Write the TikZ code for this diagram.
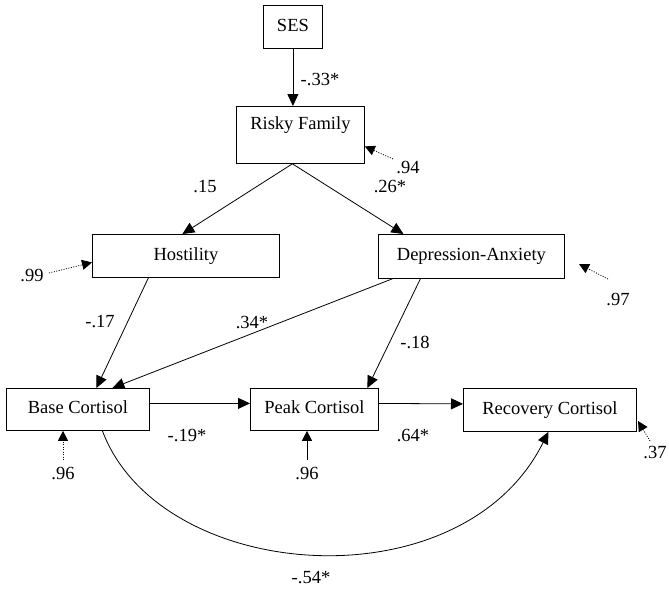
\documentclass[tikz,border=0pt]{standalone}
\usepackage{fontspec}
\setmainfont{Liberation Serif}
\usetikzlibrary{arrows.meta,calc}
\begin{document}
\begin{tikzpicture}[x=1pt,y=-1pt,
  every node/.style={font=\fontsize{18.5}{20}\selectfont},
  box/.style={draw,line width=0.8pt,anchor=north west,inner sep=0pt,text height=13pt,text depth=4pt},
  lbl/.style={inner sep=0pt},
  path/.style={line width=0.8pt,-{Triangle[length=12pt,width=11pt]}},
  err/.style={line width=0.8pt,dash pattern=on 1pt off 1.5pt,-{Triangle[length=10pt,width=10pt]}},
  errsolid/.style={line width=0.8pt,-{Triangle[length=10pt,width=10pt]}}]
\useasboundingbox (0,0) rectangle (669,595);
\clip (0,0) rectangle (669,595);
% boxes
\node[box,minimum width=59pt,minimum height=43pt] (ses) at (263,5) {SES};
\node[box,minimum width=128pt,minimum height=57pt,text depth=23pt] (risky) at (236,106) {Risky Family};
\node[box,minimum width=187pt,minimum height=43pt] (host) at (92,234) {Hostility};
\node[box,minimum width=186pt,minimum height=44pt] (da) at (378,234) {Depression-Anxiety};
\node[box,minimum width=143pt,minimum height=42pt] (base) at (6,388) {Base Cortisol};
\node[box,minimum width=128pt,minimum height=42pt] (peak) at (250,388) {Peak Cortisol};
\node[box,minimum width=173pt,minimum height=43pt] (rec) at (463,388) {Recovery Cortisol};
% structural paths
\draw[path] (ses.south) -- (ses.south |- risky.north);
\draw[path] ([xshift=-8pt]risky.south) -- ([xshift=-3.5pt]host.north);
\draw[path] ([xshift=-8pt]risky.south) -- ([xshift=-68pt]da.north);
\draw[path] ([xshift=-37.5pt]host.south) -- ([xshift=18.5pt]base.north);
\draw[path] ([xshift=-79pt]da.south) -- ([xshift=34.5pt]base.north);
\draw[path] ([xshift=-51pt]da.south) -- ([xshift=53pt]peak.north);
\draw[path] ([yshift=6pt]base.east) -- ([yshift=6pt]peak.west);
\draw[path] ([yshift=6pt]peak.east) -- ([yshift=6pt]rec.west);
\draw[path] ([xshift=24.5pt]base.south) .. controls (160,584) and (462,606) .. ([xshift=-1.5pt]rec.south);
% path labels
\node[lbl] (l33) at (320,80) {-.33*};
\node[lbl] (l15) at (205,187) {.15};
\node[lbl] (l26) at (390,187) {.26*};
\node[lbl] (l17) at (100,322) {-.17};
\node[lbl] (l34) at (252,322) {.34*};
\node[lbl] (l18) at (415,342) {-.18};
\node[lbl] (l19) at (187,435) {-.19*};
\node[lbl] (l64) at (413,435) {.64*};
\node[lbl] (l54) at (311,578) {-.54*};
% error terms
\node[lbl] (e94) at (408,168) {.94};
\coordinate (t94) at (393,159);
\draw[err] (t94) -- ([yshift=-11.5pt]risky.east);
\node[lbl] (e99) at (32,275) {.99};
\coordinate (t99) at (49,273);
\draw[err] (t99) -- ([yshift=-6.5pt]host.west);
\node[lbl] (e97) at (618,299) {.97};
\coordinate (t97) at (608,279);
\coordinate (h97) at (579,264);
\draw[err] (t97) -- (h97);
\node[lbl] (e96a) at (63,473) {.96};
\coordinate (t96a) at (63,460);
\draw[err] (t96a) -- (t96a |- base.south);
\node[lbl] (e96b) at (307,473) {.96};
\coordinate (t96b) at (307,460);
\draw[errsolid] (t96b) -- (t96b |- peak.south);
\node[lbl] (e37) at (655,452) {.37};
\coordinate (t37) at (650,441);
\coordinate (h37) at (638,421);
\draw[err] (t37) -- (h37);
\end{tikzpicture}
\end{document}
